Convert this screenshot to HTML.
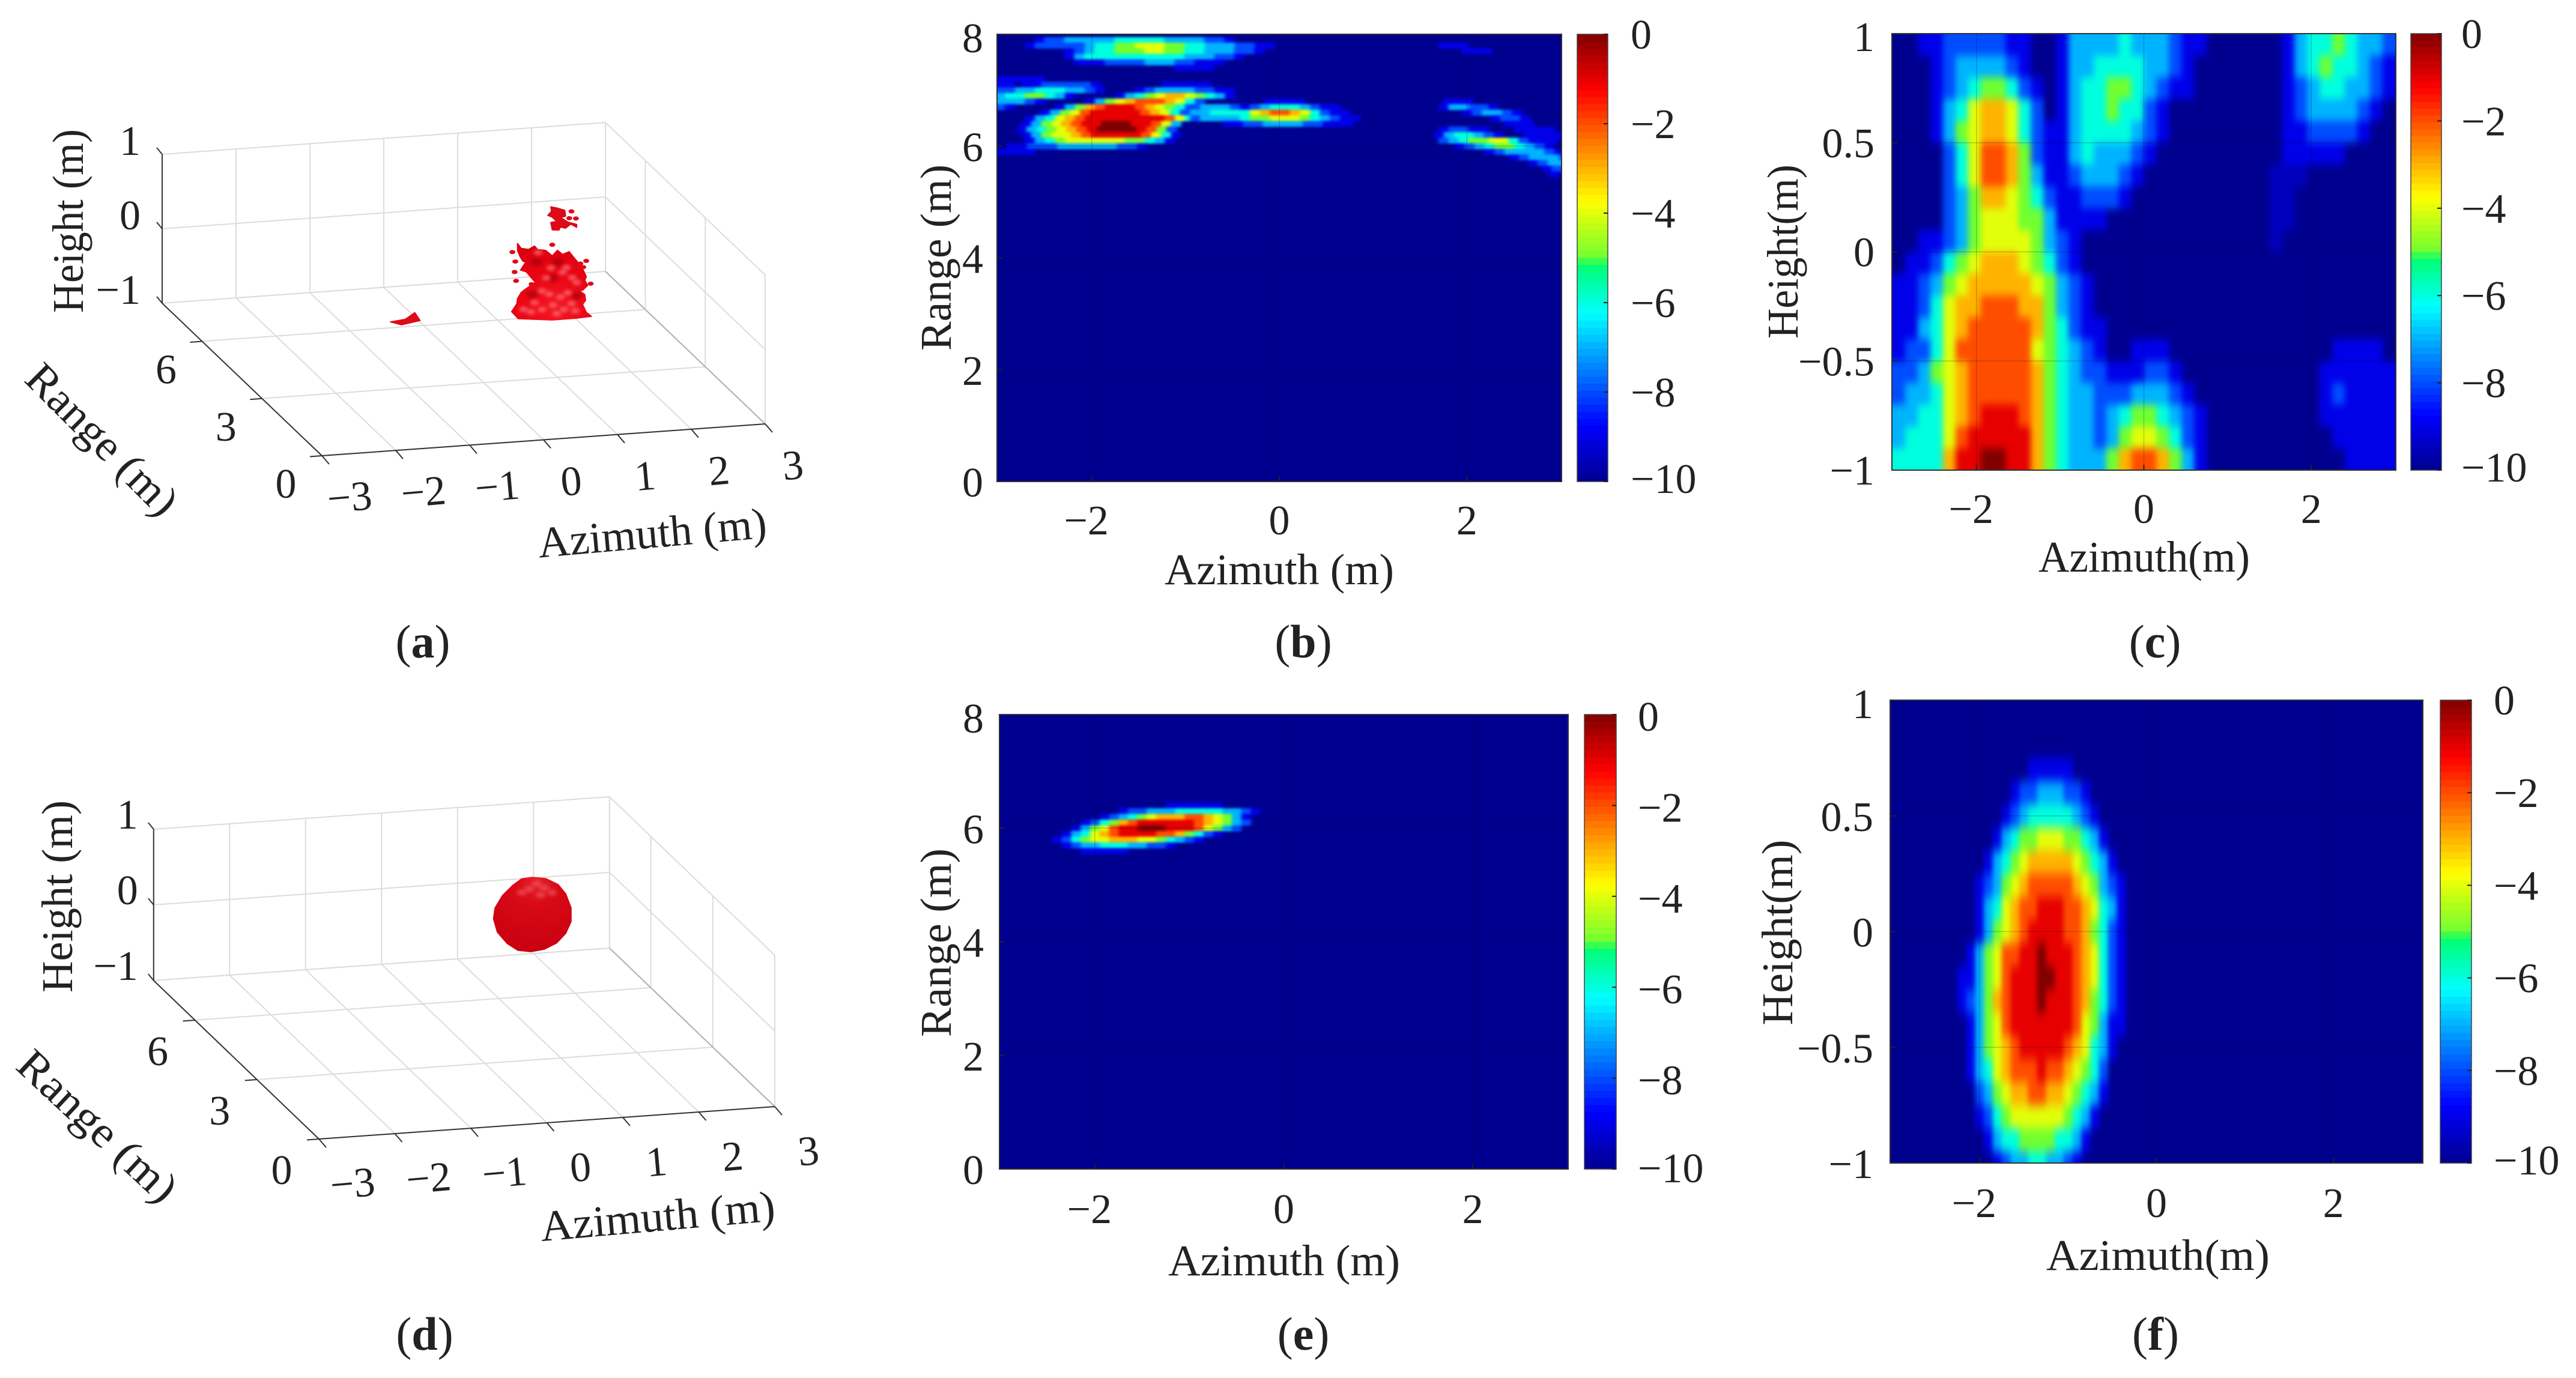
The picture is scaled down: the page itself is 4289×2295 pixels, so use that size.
<!DOCTYPE html>
<html lang="en">
<head>
<meta charset="utf-8">
<title>Radar imaging results</title>
<style>
html,body{margin:0;padding:0;background:#fff;}
svg{display:block;}
text{font-family:"Liberation Serif",serif;fill:#222;}
.title{font-size:73px;}
.cap{font-size:78px;}
</style>
</head>
<body>
<svg id="figure" xmlns="http://www.w3.org/2000/svg" width="4289" height="2295" viewBox="0 0 4289 2295">
<defs>
<radialGradient id="red-lower" cx="0.55" cy="0.85" r="0.9">
<stop offset="0" stop-color="#f41824"/><stop offset="0.5" stop-color="#ea0614"/><stop offset="1" stop-color="#d8000e"/>
</radialGradient>
<radialGradient id="red-sphere" cx="0.55" cy="0.08" r="0.95">
<stop offset="0" stop-color="#e8202c"/><stop offset="0.3" stop-color="#d80a16"/><stop offset="1" stop-color="#c80010"/>
</radialGradient>
<filter id="soft-speck" x="-50%" y="-50%" width="200%" height="200%"><feGaussianBlur stdDeviation="3"/></filter>
</defs>
<rect x="0" y="0" width="4289" height="2295" fill="#fff"/>

<g id="panel-a"></g>
<g id="panel-b"></g>
<g id="panel-c"></g>
<g id="panel-d"></g>
<g id="panel-e"></g>
<g id="panel-f"></g>

<text class="title" transform="translate(138,368) rotate(-90)" text-anchor="middle" textLength="306" lengthAdjust="spacingAndGlyphs">Height (m)</text>
<text class="title" transform="translate(153,749) rotate(45)" text-anchor="middle" textLength="325" lengthAdjust="spacingAndGlyphs">Range (m)</text>
<text class="title" transform="translate(1088,912) rotate(-5)" text-anchor="middle" textLength="382" lengthAdjust="spacingAndGlyphs">Azimuth (m)</text>
<text class="title" x="2130" y="973" text-anchor="middle" textLength="382" lengthAdjust="spacingAndGlyphs">Azimuth (m)</text>
<text class="title" transform="translate(1583,429) rotate(-90)" text-anchor="middle" textLength="310" lengthAdjust="spacingAndGlyphs">Range (m)</text>
<text class="title" x="3570" y="952" text-anchor="middle" textLength="352" lengthAdjust="spacingAndGlyphs">Azimuth(m)</text>
<text class="title" transform="translate(2993,419) rotate(-90)" text-anchor="middle" textLength="290" lengthAdjust="spacingAndGlyphs">Height(m)</text>
<text class="title" transform="translate(120,1493) rotate(-90)" text-anchor="middle" textLength="320" lengthAdjust="spacingAndGlyphs">Height (m)</text>
<text class="title" transform="translate(146,1893) rotate(43)" text-anchor="middle" textLength="335" lengthAdjust="spacingAndGlyphs">Range (m)</text>
<text class="title" transform="translate(1097,2050) rotate(-5)" text-anchor="middle" textLength="392" lengthAdjust="spacingAndGlyphs">Azimuth (m)</text>
<text class="title" x="2138" y="2124" text-anchor="middle" textLength="386" lengthAdjust="spacingAndGlyphs">Azimuth (m)</text>
<text class="title" transform="translate(1583,1570) rotate(-90)" text-anchor="middle" textLength="314" lengthAdjust="spacingAndGlyphs">Range (m)</text>
<text class="title" x="3593" y="2115" text-anchor="middle" textLength="372" lengthAdjust="spacingAndGlyphs">Azimuth(m)</text>
<text class="title" transform="translate(2984,1553) rotate(-90)" text-anchor="middle" textLength="309" lengthAdjust="spacingAndGlyphs">Height(m)</text>

<text class="cap" x="704" y="1095" text-anchor="middle">(<tspan font-weight="bold">a</tspan>)</text>
<text class="cap" x="2170" y="1095" text-anchor="middle">(<tspan font-weight="bold">b</tspan>)</text>
<text class="cap" x="3588" y="1095" text-anchor="middle">(<tspan font-weight="bold">c</tspan>)</text>
<text class="cap" x="707" y="2248" text-anchor="middle">(<tspan font-weight="bold">d</tspan>)</text>
<text class="cap" x="2170" y="2248" text-anchor="middle">(<tspan font-weight="bold">e</tspan>)</text>
<text class="cap" x="3589" y="2248" text-anchor="middle">(<tspan font-weight="bold">f</tspan>)</text>
</svg>

<script>
// ---- tick values ----
const azimuthTicks = [-2, 0, 2];
const rangeTicks = [0, 2, 4, 6, 8];
const heightTicks = [-1, -0.5, 0, 0.5, 1];
const colorbarTicks = [0, -2, -4, -6, -8, -10];
const azimuth3dTicks = [-3, -2, -1, 0, 1, 2, 3];
const range3dTicks = [0, 3, 6];
const height3dTicks = [-1, 0, 1];

// ---- heatmap cells: [row value, first azimuth, [levels in dB above the -10 dB floor]] ----
const bCells = [
[7.9,-2.56,[1,2,2,3,3,3,3,3,4,4,4,4,4,3,3,3,3,2,2,1]],
[7.8,-2.66,[1,2,2,2,2,2,3,4,4,5,5,6,6,6,5,5,4,4,3,3,3,2,2,1,1]],
[7.7,-2.24,[1,2,3,4,4,5,5,5,6,6,5,5,4,4,3,3,3,2,2,1]],
[7.6,-2.24,[1,3,4,4,4,4,4,4,4,4,4,4,3,3,3,2,2,1]],
[7.5,-2.13,[1,1,1,2,2,2,2,3,3,3,2,2,1,1,1]],
[7.4,-1.07,[1,1,1,1]],
[7.8,1.75,[1,1,1]],
[7.7,2.0,[1,1,1]],
[7.2,-2.98,[1,1,1,1,1]],
[7.1,-2.98,[1,1]],
[7.1,-2.7,[1,1,2,2,2,2,2,1]],
[7.1,-1.2,[1,1,1,1,1]],
[7.0,-2.98,[2,2,3,3,4,4,4,3,3,2,1]],
[7.0,-1.49,[1,2,3,3,3,3,2,2,1,1]],
[6.9,-2.98,[3,4,4,5,5,4,3,1]],
[6.9,-1.7,[1,3,4,5,6,7,7,6,5,4,3,1]],
[6.8,-2.98,[3,3,3,2,1]],
[6.8,-2.02,[1,3,5,6,7,8,8,8,7,6,4,2]],
[6.8,-0.11,[1,1,1,1]],
[6.8,1.8,[1,1,1]],
[6.7,-2.98,[2,1]],
[6.7,-2.34,[1,3,5,7,8,9,9,9,8,7,6,5,4,2]],
[6.7,-0.9,[2,3,3,3,2,1,2,3,4,4,4,3,2,1,1]],
[6.7,1.75,[1,3,3,2,2,1]],
[6.6,-2.5,[1,3,5,6,8,9,9,9,9,9,8,7,6,4,2]],
[6.6,-0.9,[3,3,4,4,4,4,6,7,8,8,7,6,4,2,1,1]],
[6.6,2.0,[1,2,3,3,2,1]],
[6.5,-2.66,[1,3,4,6,7,8,9,9,9,9,9,9,9,9,8,6,4]],
[6.5,-0.9,[2,3,3,3,3,4,5,5,6,6,6,5,4,3,2,1,1]],
[6.5,2.3,[1,2,2,1]],
[6.4,-2.7,[1,3,5,6,7,8,9,9,10,10,10,9,9,8,6,3]],
[6.4,-0.55,[1,1,2,2,3,3,3,3,2,2,1,1,1]],
[6.4,2.45,[1,1,1]],
[6.3,-2.75,[1,3,4,5,6,7,8,9,10,10,10,10,9,8,5,2]],
[6.3,1.75,[1,2,2,1,1]],
[6.3,2.56,[1,1,1,1]],
[6.2,-2.7,[1,3,5,6,6,7,8,9,9,9,9,9,8,6,4,1]],
[6.2,1.7,[1,3,4,4,3,2,1]],
[6.2,2.66,[1,1,1,1]],
[6.1,-2.66,[1,3,4,5,6,6,6,6,6,6,5,5,4,3,1]],
[6.1,1.75,[2,3,4,5,5,6,6,4,2,1,1,1]],
[6.0,-2.85,[1,1,2,2,2,3,3,3,3,3,3,2,2,1]],
[6.0,1.92,[1,2,3,4,5,5,4,3,2,1]],
[5.9,-2.98,[1,1,1,1]],
[5.9,2.24,[1,2,3,3,3,3,2,1]],
[5.8,2.5,[1,2,3,3,3,2]],
[5.7,2.7,[1,2,3,3]],
[5.6,2.85,[1,2]],
[5.5,2.93,[1]]
];
const cCells = [
[0.95,-2.925,[0,0,1,1,2,2,2,2,2,1,1,0,0,1,3,3,3,3,4,3,3,3,2,1,1,0,0,0,0,0,0,1,3,4,4,5,4,3,3,2]],
[0.85,-2.925,[0,0,0,1,2,3,3,3,3,2,1,0,0,1,3,3,4,4,4,4,3,3,2,1,0,0,0,0,0,0,0,1,3,4,5,4,4,3,2,1]],
[0.75,-2.925,[0,0,0,1,2,3,4,5,5,4,2,1,0,1,3,4,4,5,5,4,3,2,1,1,0,0,0,0,0,0,0,1,2,3,4,4,3,3,2,1]],
[0.65,-2.925,[0,0,0,1,3,4,6,7,7,6,4,2,0,1,3,4,4,5,4,4,2,1,0,0,0,0,0,0,0,0,0,1,2,3,3,3,3,2,1,0]],
[0.55,-2.925,[0,0,0,1,3,5,6,7,7,6,4,2,1,1,3,4,4,4,4,3,2,1,0,0,0,0,0,0,0,0,0,1,1,2,2,2,2,1,0,0]],
[0.45,-2.925,[0,0,0,0,2,4,6,8,8,7,5,2,1,1,3,4,3,3,3,2,1,0,0,0,0,0,0,0,0,0,0,1,1,1,1,1,0,0,0,0]],
[0.35,-2.925,[0,0,0,0,2,4,6,8,8,7,5,3,1,1,2,3,3,3,2,1,0,0,0,0,0,0,0,0,0,0,0.5,0.5,0.5,0,0,0,0,0,0,0]],
[0.25,-2.925,[0,0,0,0,2,3,5,7,7,6,5,4,2,1,1,2,2,2,1,0,0,0,0,0,0,0,0,0,0,0,0.5,0.5,0,0,0,0,0,0,0,0]],
[0.15,-2.925,[0,0,0,0,2,3,5,6,6,6,5,5,3,1,1,1,1]],
[0.15,1.575,[0.5,0.5]],
[0.05,-2.925,[0,0,1,1,2,3,5,6,6,6,6,5,3,2,1]],
[0.05,1.575,[0.5]],
[-0.05,-2.925,[0,1,1,2,4,5,6,7,7,7,6,5,4,2,1]],
[-0.15,-2.925,[1,1,2,3,5,6,7,7,7,7,7,6,5,3,2,1]],
[-0.25,-2.925,[1,1,2,4,6,7,7,8,8,8,7,7,5,3,2,1]],
[-0.35,-2.925,[1,1,3,4,6,7,8,8,8,8,8,7,5,4,2,1,1]],
[-0.45,-2.925,[1,2,2,4,6,8,8,8,8,8,8,6,5,4,3,2,1,0,0,1,1,1]],
[-0.45,2.325,[1,1,1,1]],
[-0.55,-2.925,[2,2,3,5,6,7,8,8,8,8,8,7,5,4,3,2,2,1,1,1,2,2,1]],
[-0.55,2.175,[1,1,1,1,1,1]],
[-0.65,-2.925,[2,3,3,4,6,7,8,8,8,8,8,7,5,4,3,3,2,2,2,3,3,3,2,1]],
[-0.65,2.175,[1,2,1,1,1,1]],
[-0.75,-2.925,[3,3,4,4,6,7,8,9,9,9,8,7,5,4,3,3,2,3,4,5,5,4,3,2,1]],
[-0.75,2.175,[1,1,1,1,1,1]],
[-0.85,-2.925,[3,4,4,4,6,8,9,9,9,9,9,7,5,4,3,3,2,3,5,6,6,5,4,2,1]],
[-0.85,2.325,[1,1,1,1,1]],
[-0.95,-2.925,[4,4,4,4,7,9,9,10,10,9,9,7,5,4,3,3,3,5,7,8,8,7,5,3,1]],
[-0.95,2.475,[1,1,1,1]]
];
const eCells = [
[6.4,-1.2,[1,1,1,1,1,1]],
[6.3,-1.7,[1,2,2,3,3,3,4,4,4,4,4,3,3,2,1]],
[6.2,-1.9,[1,2,3,4,5,6,7,7,7,8,8,7,6,5,3,1]],
[6.1,-2.1,[1,2,4,5,7,8,9,9,9,9,9,9,8,7,6,5,3,2]],
[6.0,-2.2,[1,3,5,6,8,9,9,10,10,10,9,9,9,8,6,5,3,2]],
[5.9,-2.3,[1,3,4,6,7,8,9,9,9,9,8,8,7,5,4,2,1]],
[5.8,-2.4,[1,2,4,5,6,6,7,7,7,6,6,5,4,3,2,1]],
[5.7,-2.3,[1,2,3,3,4,4,4,3,3,2,2,1]],
[5.6,-2.1,[1,1,1,1,1]]
];
const fCells = [
[0.7,-1.4,[1,1,1,1,1]],
[0.6,-1.6,[1,2,2,3,3,3,2,2,1]],
[0.5,-1.7,[1,2,3,4,4,4,4,4,3,2,1]],
[0.4,-1.8,[1,3,4,5,5,6,6,6,5,5,4,3,1]],
[0.3,-1.9,[1,3,4,5,6,7,7,7,7,7,6,5,4,3,1]],
[0.2,-2.0,[1,2,3,5,6,7,8,8,8,8,8,7,6,5,3,2,1]],
[0.1,-2.0,[1,3,4,6,7,8,8,9,9,9,8,8,7,6,4,3,1]],
[0,-2.0,[1,3,5,6,7,8,9,9,9,9,8,8,7,5,4,2,1]],
[-0.1,-2.1,[1,3,5,6,8,8,9,9,10,9,9,9,8,7,6,4,2,1]],
[-0.2,-2.2,[1,1,3,5,6,8,9,9,9,10,10,9,9,8,7,6,4,2,1]],
[-0.3,-2.2,[1,2,3,5,7,8,9,9,9,10,9,9,9,8,7,5,4,2,1]],
[-0.4,-2.1,[1,3,5,6,8,9,9,9,9,9,9,9,8,6,5,3,1,1]],
[-0.5,-2.1,[1,3,5,6,7,8,9,9,9,9,9,8,7,6,4,3,1]],
[-0.6,-2.1,[1,3,4,6,7,8,8,8,9,8,8,7,6,5,4,2]],
[-0.7,-2.0,[2,3,5,6,7,7,8,8,7,7,6,5,4,3,1]],
[-0.8,-2.0,[1,2,4,5,6,6,6,6,6,6,5,4,3,1]],
[-0.9,-1.9,[1,3,4,4,5,5,5,5,4,4,3,1]],
[-1.0,-1.8,[1,2,3,3,4,4,3,3,2,1]]
];

// ---- 3D isosurface outlines (azimuth m, height m) ----
const aMainAz = [1.27,1.32,1.42,1.5,1.54,1.65,1.74,1.81,1.88,1.97,2.03,2.07,2.14,2.2,2.18,2.22,2.15,2.1,2.18,2.19,2.15,2.2,2.27,2.07,1.74,1.28,1.19,1.26,1.27,1.32,1.41,1.51,1.39,1.31,1.38,1.34,1.3,1.27];
const aMainHeight = [0.01,-0.06,-0.08,-0.04,-0.09,-0.11,-0.19,-0.12,-0.18,-0.15,-0.23,-0.28,-0.37,-0.5,-0.55,-0.62,-0.68,-0.68,-0.74,-0.82,-0.87,-0.98,-1.04,-1.05,-1.05,-1.0,-0.9,-0.8,-0.73,-0.65,-0.59,-0.53,-0.38,-0.35,-0.25,-0.23,-0.16,-0.08];
const aUpperAz = [1.72,1.8,1.91,1.92,1.85,1.95,2.07,2.07,1.99,1.92,1.85,1.83,1.74,1.72,1.8,1.74,1.68,1.73];
const aUpperHeight = [0.47,0.45,0.41,0.33,0.32,0.25,0.21,0.17,0.22,0.17,0.19,0.15,0.16,0.26,0.27,0.33,0.36,0.41];
const aSmallAz = [-0.45,-0.25,-0.12,-0.05,-0.3];
const aSmallHeight = [-0.92,-0.9,-0.82,-0.93,-0.97];
const aBrightAz = [1.6,1.75,1.9,1.5,1.85,2.0,1.7,1.45,1.95,1.6,1.8,2.05,1.35,1.55,1.72,1.93,2.01,1.88,1.66,2.07];
const aBrightHeight = [-0.9,-0.85,-0.92,-0.8,-0.75,-0.85,-0.7,-0.92,-0.7,-0.65,-0.97,-0.95,-0.88,-0.13,-0.35,-0.36,-0.5,-0.42,-0.48,-0.57];
const aDarkAz = [1.53,1.82,1.74,2.07,1.47];
const aDarkHeight = [-0.26,-0.28,-0.49,-0.75,-0.69];
const aFragmentAz = [2.0,2.06,1.74,1.24,1.23,1.25,2.12,2.2,2.16,1.97,2.26,1.2,1.46];
const aFragmentHeight = [0.39,0.29,-0.04,-0.23,-0.37,-0.49,-0.32,-0.29,-0.37,0.3,-0.6,-0.1,-0.55];
const dSphereAz = [1.44,1.62,1.78,1.88,1.95,1.95,1.88,1.76,1.6,1.42,1.25,1.11,0.98,0.93,0.95,1.05,1.18,1.3];
const dSphereHeight = [0.57,0.54,0.45,0.32,0.13,-0.05,-0.2,-0.32,-0.39,-0.41,-0.38,-0.28,-0.12,0.06,0.2,0.36,0.48,0.56];
const dBrightAz = [1.5,1.6,1.4,1.7,1.55,1.3];
const dBrightHeight = [0.48,0.42,0.42,0.35,0.33,0.38];
const isoRange = 6;

// ---- helpers ----
const NS = 'http://www.w3.org/2000/svg';
function make(tag, parent, attrs) {
  const el = document.createElementNS(NS, tag);
  for (const k in attrs) el.setAttribute(k, attrs[k]);
  parent.appendChild(el);
  return el;
}
function label(parent, name, str, x, y, anchor, size, rotate) {
  const t = make('text', parent, {x: x, y: y, 'text-anchor': anchor, 'font-size': size});
  
  
  if (rotate) t.setAttribute('transform', 'rotate(' + rotate + ' ' + x + ' ' + y + ')');
  t.textContent = str;
  return t;
}
function fmt(v) { return String(v).replace('-', '\u2212'); }

const jetStops = [
[0,0,0,143],[0.125,0,0,255],[0.375,0,255,255],[0.485,0,255,112],[0.5,112,255,48],
[0.625,255,255,0],[0.75,255,128,0],[0.875,255,0,0],[1,128,0,0]];
function jet(t) {
  t = Math.max(0, Math.min(1, t));
  for (let i = 1; i < jetStops.length; i++) {
    if (t <= jetStops[i][0]) {
      const a = jetStops[i-1], b = jetStops[i], f = (t - a[0]) / (b[0] - a[0]);
      return 'rgb(' + [1,2,3].map(j => Math.round(a[j] + (b[j]-a[j]) * f)).join(',') + ')';
    }
  }
  return 'rgb(128,0,0)';
}

// ---- 2D heatmap panel ----
function drawHeatmap(id, box, cells, azStep, rowStep, yMin, yMax, yTicks, blurX, blurY) {
  const g = document.getElementById(id);
  const {left, right, top, bottom, cbLeft, cbRight, xLabelY, yLabelX, yOff, cbLabelX, cbOff} = box;
  const azMin = -3.01, azMax = 3.01;
  const xs = az => left + (az - azMin) / (azMax - azMin) * (right - left);
  const ys = v => bottom - (v - yMin) / (yMax - yMin) * (bottom - top);
  const cs = db => bottom - (db + 10) / 10 * (bottom - top);

  const clip = make('clipPath', g, {id: id + '-clip'});
  make('rect', clip, {x: left, y: top, width: right - left, height: bottom - top});
  const filter = make('filter', g, {id: id + '-blur', filterUnits: 'userSpaceOnUse', x: left - 80, y: top - 80, width: right - left + 160, height: bottom - top + 160, 'color-interpolation-filters': 'sRGB'});
  make('feGaussianBlur', filter, {stdDeviation: blurX + ' ' + blurY});

  const plot = make('g', g, {'clip-path': 'url(#' + id + '-clip)'});
  
  
  const bg = make('rect', plot, {x: left, y: top, width: right - left, height: bottom - top, fill: '#00008f'});
  
  
  const layer = make('g', plot, {filter: 'url(#' + id + '-blur)'});
  
  

  cells.forEach(span => {
    const rowValue = span[0], startAz = span[1], levels = span[2];
    levels.forEach((level, i) => {
      const az = startAz + i * azStep;
      let x0 = xs(az - azStep / 2), x1 = xs(az + azStep / 2);
      let y0 = ys(rowValue + rowStep / 2), y1 = ys(rowValue - rowStep / 2);
      if (x0 <= left + 3) x0 = left - 60;
      if (x1 >= right - 3) x1 = right + 60;
      if (y0 <= top + 3) y0 = top - 60;
      if (y1 >= bottom - 3) y1 = bottom + 60;
      const cell = make('rect', layer, {x: x0, y: y0, width: x1 - x0 + 0.6, height: y1 - y0 + 0.6, fill: jet(level / 10)});
      
      
    });
  });

  azimuthTicks.forEach(t => {
    const x = xs(t);
    const grid = make('line', g, {x1: x, x2: x, y1: top, y2: bottom, stroke: 'rgba(0,0,30,0.2)', 'stroke-width': 1.5});
    
    
    const tick = make('line', g, {x1: x, x2: x, y1: bottom, y2: bottom - 9, stroke: '#222', 'stroke-width': 2});
    
    
    label(g, 'x-tick-label', fmt(t), t < 0 ? x - 9 : x, xLabelY, 'middle', 70);
  });
  yTicks.forEach(t => {
    const y = ys(t);
    const grid = make('line', g, {x1: left, x2: right, y1: y, y2: y, stroke: 'rgba(0,0,30,0.2)', 'stroke-width': 1.5});
    
    
    const tick = make('line', g, {x1: left, x2: left + 9, y1: y, y2: y, stroke: '#222', 'stroke-width': 2});
    
    
    label(g, 'y-tick-label', fmt(t), yLabelX, y + yOff + (t === yMax ? 5 : 0), 'end', 70);
  });
  const frame = make('rect', g, {x: left, y: top, width: right - left, height: bottom - top, fill: 'none', stroke: '#333', 'stroke-width': 2});
  
  

  const bar = make('g', g, {});
  
  
  const steps = 64;
  for (let i = 0; i < steps; i++) {
    const y0 = top + (bottom - top) * i / steps;
    const seg = make('rect', bar, {x: cbLeft, y: y0, width: cbRight - cbLeft, height: (bottom - top) / steps + 0.6, fill: jet(1 - (i + 0.5) / steps)});
    
    
  }
  const cbFrame = make('rect', bar, {x: cbLeft, y: top, width: cbRight - cbLeft, height: bottom - top, fill: 'none', stroke: '#444', 'stroke-width': 1.5});
  
  
  colorbarTicks.forEach(t => {
    const y = cs(t);
    const tick = make('line', bar, {x1: cbRight - 7, x2: cbRight, y1: y, y2: y, stroke: '#222', 'stroke-width': 2});
    
    
    label(bar, 'colorbar-tick-label', fmt(t), cbLabelX, y + cbOff + (t === -10 ? -5 : 0), 'start', 70);
  });
}

// ---- 3D isosurface panel ----
function draw3d(id, p, offs) {
  const g = document.getElementById(id);
  const P = (az, r, h) => [
    p.ox + p.ax * (az + 3) + p.rx * r,
    p.oy + p.ay * (az + 3) + p.ry * r + p.hy * (h + 1)
  ];
  function seg(a, b, color, w, name) {
    const l = make('line', g, {x1: a[0], y1: a[1], x2: b[0], y2: b[1], stroke: color, 'stroke-width': w});
    
    
  }
  const gridColor = '#dcdcdc';
  const rangeLines = range3dTicks.concat([8]);
  azimuth3dTicks.forEach(az => {
    seg(P(az, 8, -1), P(az, 8, 1), gridColor, 2, 'back-wall-grid-line');
    seg(P(az, 0, -1), P(az, 8, -1), gridColor, 2, 'floor-grid-line');
  });
  height3dTicks.forEach(h => {
    seg(P(-3, 8, h), P(3, 8, h), gridColor, 2, 'back-wall-grid-line');
    seg(P(3, 8, h), P(3, 0, h), gridColor, 2, 'side-wall-grid-line');
  });
  rangeLines.forEach(r => {
    seg(P(-3, r, -1), P(3, r, -1), gridColor, 2, 'floor-grid-line');
    seg(P(3, r, -1), P(3, r, 1), gridColor, 2, 'side-wall-grid-line');
  });
  seg(P(3, 0, -1), P(3, 8, -1), '#b0b0b0', 2, 'side-floor-edge');
  seg(P(-3, 8, -1), P(-3, 8, 1), '#333', 2, 'height-axis-line');
  seg(P(-3, 0, -1), P(-3, 8, -1), '#333', 2, 'range-axis-line');
  seg(P(-3, 0, -1), P(3, 0, -1), '#333', 2, 'azimuth-axis-line');

  azimuth3dTicks.forEach(az => {
    const a = P(az, 0, -1);
    seg(a, [a[0] + 12, a[1] + 14], '#333', 2, 'azimuth-tick');
    label(g, 'azimuth-tick-label', fmt(az), a[0] + offs.azX, a[1] + offs.azY, 'middle', 70, -5);
  });
  range3dTicks.forEach(r => {
    const a = P(-3, r, -1);
    seg(a, [a[0] - 20, a[1] + 1.5], '#333', 2, 'range-tick');
    label(g, 'range-tick-label', fmt(r), a[0] + offs.rX, a[1] + offs.rY, 'middle', 70);
  });
  height3dTicks.forEach(h => {
    const a = P(-3, 8, h);
    seg(a, [a[0] - 9, a[1] - 11], '#333', 2, 'height-tick');
    label(g, 'height-tick-label', fmt(h), a[0] + offs.hX, a[1] + offs.hY, 'end', 70);
  });

  function blob(azs, hs, fill, name) {
    const pts = azs.map((az, i) => P(az, isoRange, hs[i]).join(',')).join(' ');
    const poly = make('polygon', g, {points: pts, fill: fill, stroke: fill, 'stroke-width': 2, 'stroke-linejoin': 'round'});
    
    
  }
  function specks(azs, hs, fill, r, op, name) {
    azs.forEach((az, i) => {
      const c = P(az, isoRange, hs[i]);
      const s = make('ellipse', g, {cx: c[0], cy: c[1], rx: r * 1.6, ry: r, fill: fill, opacity: op, filter: 'url(#soft-speck)'});
      
      
    });
  }
  function fragments(azs, hs, fill, r, name) {
    azs.forEach((az, i) => {
      const c = P(az, isoRange, hs[i]);
      const s = make('ellipse', g, {cx: c[0], cy: c[1], rx: r * 1.4, ry: r, fill: fill});
      
      
    });
  }
  return {blob, specks, fragments};
}

// ---- render ----
drawHeatmap('panel-b', {left:1660,right:2600,top:57,bottom:802,cbLeft:2626,cbRight:2677,xLabelY:890,yLabelX:1637,yOff:25,cbLabelX:2715,cbOff:24}, bCells, 0.1066, 0.1, 0, 8, rangeTicks, 3, 2);
drawHeatmap('panel-c', {left:3150,right:3989,top:56,bottom:783,cbLeft:4014,cbRight:4065,xLabelY:871,yLabelX:3121,yOff:24,cbLabelX:4098,cbOff:24}, cCells, 0.15, 0.1, -1, 1, heightTicks, 5, 7);
drawHeatmap('panel-e', {left:1664,right:2611,top:1190,bottom:1947,cbLeft:2638,cbRight:2691,xLabelY:2037,yLabelX:1638,yOff:25,cbLabelX:2727,cbOff:27}, eCells, 0.1, 0.1, 0, 8, rangeTicks, 3, 2);
drawHeatmap('panel-f', {left:3147,right:4034,top:1166,bottom:1937,cbLeft:4063,cbRight:4115,xLabelY:2027,yLabelX:3119,yOff:25,cbLabelX:4152,cbOff:24}, fCells, 0.1, 0.1, -1, 1, heightTicks, 4, 9);

const panelA = draw3d('panel-a',
  {ox:536, oy:759, ax:123, ay:-8.83, rx:-33.25, ry:-31.75, hy:-124},
  {azX:48, azY:92, rX:-60, rY:70, hX:-36, hY:1});
panelA.blob(aMainAz, aMainHeight, 'url(#red-lower)', 'target-isosurface-main');
panelA.blob(aUpperAz, aUpperHeight, '#dd0a18', 'target-isosurface-upper');
panelA.blob(aSmallAz, aSmallHeight, '#dd0a18', 'target-isosurface-small');
panelA.specks(aDarkAz, aDarkHeight, '#a00010', 6, 0.7, 'isosurface-shadow');
panelA.specks(aBrightAz, aBrightHeight, '#ff7078', 4.5, 0.75, 'isosurface-highlight');
panelA.fragments(aFragmentAz, aFragmentHeight, '#e00a18', 3.5, 'isosurface-fragment');

const panelD = draw3d('panel-d',
  {ox:531, oy:1897, ax:126.5, ay:-9, rx:-34.4, ry:-33, hy:-126},
  {azX:58, azY:97, rX:-62, rY:75, hX:-26, hY:-1});
panelD.blob(dSphereAz, dSphereHeight, 'url(#red-sphere)', 'target-isosurface-sphere');
panelD.specks(dBrightAz, dBrightHeight, '#ec5a64', 5, 0.65, 'isosurface-highlight');
</script>
</body>
</html>
